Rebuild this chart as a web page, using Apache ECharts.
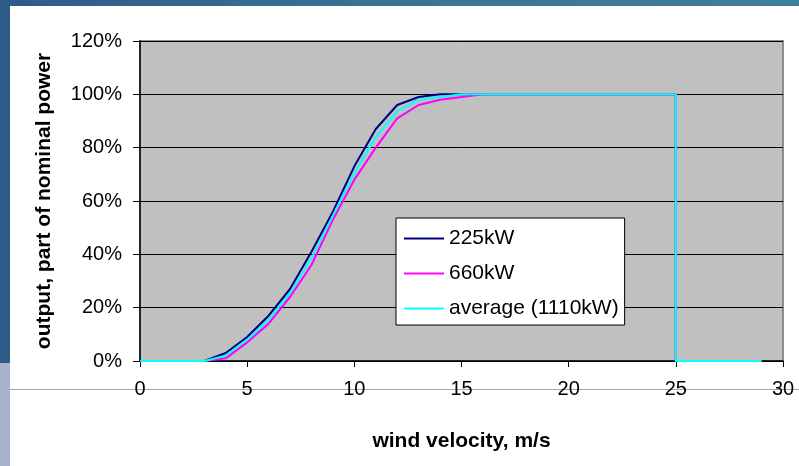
<!DOCTYPE html>
<html>
<head>
<meta charset="utf-8">
<script src="https://cdn.jsdelivr.net/npm/echarts@6/dist/echarts.min.js"></script>
<style>
  html, body { margin: 0; padding: 0; width: 799px; height: 466px; overflow: hidden; }
  body { background: linear-gradient(90deg, #2d5b88 0%, #3a7398 50%, #3f7f9e 100%); position: relative; }
  #panel { position: absolute; left: 10px; top: 6px; width: 789px; height: 460px; background: #ffffff; }
  #strip { position: absolute; left: 0; top: 363px; width: 10px; height: 103px; background: #a9b0c9; }
  #chart { position: absolute; left: 0; top: 0; width: 799px; height: 466px; }
</style>
</head>
<body>
<div id="panel"></div>
<div id="strip"></div>
<div id="chart"></div>
<script>
// wind velocity (m/s); 25 appears twice for the cut-out drop
const velocity = [0,1,2,3,4,5,6,7,8,9,10,11,12,13,14,15,16,17,18,19,20,21,22,23,24,25,25,26,27,28,29];
// output, % of nominal power
const p225kW  = [0,0,0,0,3,9,17,27,41,56,73,87,96,99,100,100,100,100,100,100,100,100,100,100,100,100,0,0,0,0,0];
const p660kW  = [0,0,0,0,1,7,14,24,36,53,68,80,91,96,98,99,100,100,100,100,100,100,100,100,100,100,0,0,0,0,0];
const pAverage = [0,0,0,0,2,8,15.5,25.5,38.5,54.5,70.5,84,93.5,98,99,100,100,100,100,100,100,100,100,100,100,100,0,0,0,0,0];
const seriesNames = ['225kW', '660kW', 'average (1110kW)'];
const xTicks = [0,5,10,15,20,25,30];
const yTicks = [0,20,40,60,80,100,120];

const pairs = (ys) => velocity.map((x, i) => [x, ys[i]]);
const font = '"Liberation Sans", Arial, sans-serif';

const chart = echarts.init(document.getElementById('chart'), null, { renderer: 'canvas' });
chart.setOption({
  backgroundColor: 'transparent',
  animation: false,
  graphic: [{
    type: 'line', z: -10, silent: true,
    shape: { x1: 10, y1: 389.5, x2: 799, y2: 389.5 },
    style: { stroke: '#9ea5b8', lineWidth: 1 }
  }],
  grid: {
    left: 140, right: 16, top: 41, bottom: 105,
    show: true, backgroundColor: '#c0c0c0', borderColor: '#8f8f8f', borderWidth: 2
  },
  legend: {
    orient: 'vertical',
    left: 396, top: 218,
    padding: [10, 6, 6, 8],
    icon: 'rect',
    itemWidth: 40, itemHeight: 2, itemGap: 14,
    backgroundColor: '#ffffff', borderColor: '#000000', borderWidth: 1,
    textStyle: { fontFamily: font, fontSize: 21, color: '#000' },
    data: seriesNames
  },
  xAxis: {
    type: 'value', min: xTicks[0], max: xTicks[xTicks.length - 1], interval: 5,
    name: 'wind velocity, m/s', nameLocation: 'middle', nameGap: 70,
    nameTextStyle: { fontFamily: font, fontSize: 21, fontWeight: 'bold', color: '#000' },
    axisLine: { show: true, onZero: false, lineStyle: { color: '#000', width: 1.5 } },
    axisTick: { show: true, length: 6, lineStyle: { color: '#000' } },
    axisLabel: { fontFamily: font, fontSize: 20, color: '#000', margin: 18 },
    splitLine: { show: false }
  },
  yAxis: {
    type: 'value', min: yTicks[0], max: yTicks[yTicks.length - 1], interval: 20,
    name: 'output, part of nominal power', nameLocation: 'middle', nameGap: 85,
    nameTextStyle: { fontFamily: font, fontSize: 21, fontWeight: 'bold', color: '#000' },
    axisLine: { show: true, lineStyle: { color: '#000', width: 1.5 } },
    axisTick: { show: true, length: 7, lineStyle: { color: '#000' } },
    axisLabel: { fontFamily: font, fontSize: 20, color: '#000', margin: 18, formatter: '{value}%' },
    splitLine: { show: true, lineStyle: { color: '#000', width: 1 } }
  },
  series: [
    { name: seriesNames[0], type: 'line', data: pairs(p225kW), symbol: 'none', lineStyle: { color: '#000080', width: 2 }, itemStyle: { color: '#000080' }, z: 2 },
    { name: seriesNames[1], type: 'line', data: pairs(p660kW), symbol: 'none', lineStyle: { color: '#ff00ff', width: 2 }, itemStyle: { color: '#ff00ff' }, z: 3 },
    { name: seriesNames[2], type: 'line', data: pairs(pAverage), symbol: 'none', lineStyle: { color: '#00ffff', width: 2 }, itemStyle: { color: '#00ffff' }, z: 4 }
  ]
});
</script>
</body>
</html>
